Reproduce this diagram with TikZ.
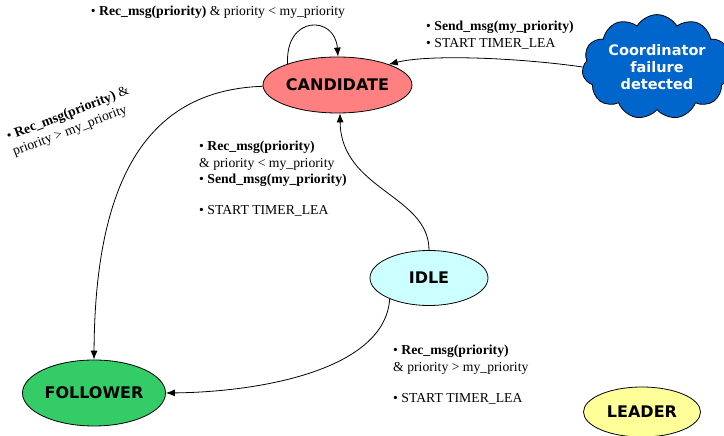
\documentclass[tikz,border=0pt]{standalone}
\usepackage{fontspec}
\setmainfont{Liberation Serif}
\newfontfamily\statefont{DejaVu Sans}
\usetikzlibrary{shapes.geometric,shapes.symbols,arrows.meta}
\definecolor{candfill}{HTML}{FF8080}
\definecolor{idlefill}{HTML}{CCFFFF}
\definecolor{follfill}{HTML}{33CC66}
\definecolor{leadfill}{HTML}{FFFF99}
\definecolor{cloudfill}{HTML}{0066CC}
\begin{document}
\begin{tikzpicture}[x=1pt,y=1pt,
  state/.style={ellipse,draw=black,line width=0.8pt,inner sep=0pt,
    font=\statefont\bfseries\fontsize{16}{18}\selectfont},
  trans/.style={line width=0.8pt,-{Latex[length=9pt,width=7pt]}},
  note/.style={inner sep=0pt,align=left,font=\fontsize{13.7}{16.5}\selectfont}]
\useasboundingbox (0,0) rectangle (724,436);

% states
\node[state,fill=candfill,minimum width=149,minimum height=56] (cand) at (337.5,351) {CANDIDATE};
\node[state,fill=idlefill,minimum width=118,minimum height=55] (idle) at (429,158) {IDLE};
\node[state,fill=follfill,minimum width=143,minimum height=66] (foll) at (94,43) {FOLLOWER};
\node[state,fill=leadfill,minimum width=117,minimum height=50] (lead) at (642,24) {LEADER};
\node[cloud,cloud puffs=11,cloud puff arc=120,aspect=1.6,draw=black,line width=0.8pt,
  fill=cloudfill,text=white,align=center,inner sep=0pt,minimum width=150,minimum height=90,
  font=\statefont\bfseries\fontsize{14.5}{17}\selectfont] (fail) at (657,369)
  {Coordinator\\failure\\detected};

% transitions
\draw[trans] (cand.157) .. controls (285,421) and (335,421) .. (cand.89);
\draw[trans] (fail.west) .. controls (520,378) and (430,382) .. (cand.22);
\draw[trans] (cand.181) .. controls (150,346) and (95,261) .. (foll.north);
\draw[trans] (idle.north) .. controls (429,241) and (341,246) .. (cand.-85);
\draw[trans] (idle.-152) .. controls (385,66) and (260,44) .. (foll.east);

% transition labels
\node[note] (lloop) at (218,424) {• \textbf{Rec\_msg(priority)} \& priority < my\_priority};
\node[note,anchor=north west] (lfail) at (426,415)
  {• \textbf{Send\_msg(my\_priority)}\\• START TIMER\_LEA};
\node[note,anchor=north west] (lmid) at (199,295)
  {• \textbf{Rec\_msg(priority)}\\\& priority < my\_priority\\• \textbf{Send\_msg(my\_priority)}\\[14pt]• START TIMER\_LEA};
\node[note,anchor=north west] (llow) at (393,91)
  {• \textbf{Rec\_msg(priority)}\\\& priority > my\_priority\\[15pt]• START TIMER\_LEA};
\node[note,rotate=21] (lfol) at (71,314)
  {• \textbf{Rec\_msg(priority)} \&\\priority > my\_priority};
\end{tikzpicture}
\end{document}
